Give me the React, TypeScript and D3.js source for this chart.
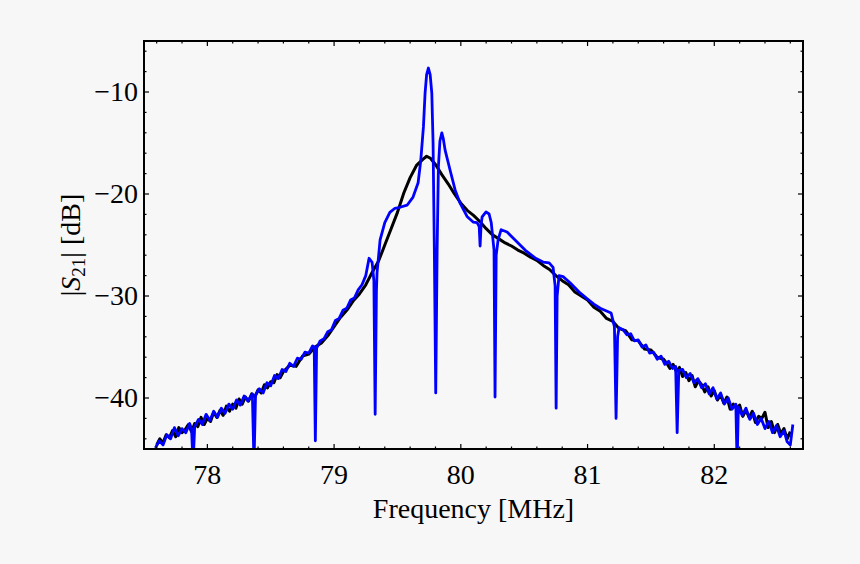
import React, { useEffect, useRef } from "react"
import * as d3 from "d3"

// black trace (reference / bare resonator)
const blackFreq = [
  77.6, 77.625, 77.65, 77.675, 77.7, 77.725, 77.75, 77.775, 77.8, 77.825, 77.85, 77.875, 77.9,
  77.925, 77.95, 77.975, 78.0, 78.025, 78.05, 78.075, 78.1, 78.125, 78.15, 78.175, 78.2, 78.225,
  78.25, 78.275, 78.3, 78.325, 78.35, 78.375, 78.4, 78.425, 78.45, 78.475, 78.5, 78.525, 78.55,
  78.575, 78.6, 78.65, 78.7, 78.75, 78.8, 78.85, 78.9, 78.95,
  79.0, 79.05, 79.1, 79.15, 79.2, 79.25, 79.3, 79.35, 79.4, 79.45, 79.5, 79.55, 79.6, 79.65,
  79.7, 79.73, 79.76, 79.8, 79.85, 79.9, 79.95, 80.0, 80.05, 80.1, 80.15, 80.2, 80.25, 80.3,
  80.35, 80.4, 80.45, 80.5, 80.55, 80.6, 80.65, 80.7, 80.75, 80.8, 80.85, 80.9, 80.95, 81.0,
  81.05, 81.1, 81.15, 81.2, 81.25, 81.3, 81.35, 81.4, 81.45, 81.5, 81.55,
  81.6, 81.625, 81.65, 81.675, 81.7, 81.725, 81.75, 81.775, 81.8, 81.825, 81.85, 81.875, 81.9,
  81.925, 81.95, 81.975, 82.0, 82.025, 82.05, 82.075, 82.1, 82.125, 82.15, 82.175, 82.2, 82.225,
  82.25, 82.275, 82.3, 82.325, 82.35, 82.375, 82.4, 82.425, 82.45, 82.475, 82.5, 82.525, 82.55,
  82.575, 82.6,
]
const blackDb = [
  -44.6, -44.0, -44.4, -43.6, -43.9, -43.2, -43.8, -42.9, -43.4, -43.1, -42.6, -43.3, -42.5,
  -42.8, -41.9, -42.6, -42.0, -42.3, -41.4, -41.9, -41.2, -41.7, -40.8, -41.3, -40.6, -41.0,
  -40.1, -40.6, -39.9, -40.3, -39.6, -39.9, -39.2, -39.5, -38.7, -39.0, -38.4, -38.5, -37.7,
  -38.0, -37.4, -36.8, -36.9, -35.9, -35.7, -35.0, -34.6, -33.9,
  -33.0, -32.1, -31.4, -30.5, -29.8, -28.9, -27.7, -26.6, -25.0, -23.4, -21.8, -19.9, -18.4, -17.2,
  -16.6, -16.3, -16.5, -17.1, -18.1, -19.0, -20.0, -20.9, -21.6, -22.1, -22.7, -23.4, -24.0, -24.4,
  -24.8, -25.1, -25.5, -25.8, -26.2, -26.5, -27.0, -27.4, -28.0, -28.5, -28.9, -29.6, -30.0, -30.4,
  -31.1, -31.5, -32.2, -32.5, -33.2, -33.4, -34.3, -34.4, -35.2, -35.3, -36.0,
  -36.2, -36.6, -37.1, -36.7, -37.4, -37.0, -37.9, -37.5, -38.3, -37.8, -38.9, -38.3, -38.7,
  -39.4, -38.9, -39.8, -39.3, -40.2, -39.7, -40.5, -39.9, -41.1, -40.6, -41.0, -40.7, -41.8,
  -41.2, -41.9, -41.3, -42.4, -41.8, -42.0, -41.4, -42.9, -42.3, -43.4, -42.6, -43.5, -43.0,
  -44.0, -43.3,
]

// blue trace (coupled system, with periodic notches)
const blueFreq = [
  77.59, 77.62, 77.65, 77.68, 77.71, 77.74, 77.77, 77.8, 77.83, 77.86, 77.875, 77.887, 77.9, 77.93,
  77.96, 77.99, 78.02, 78.05, 78.08, 78.11, 78.14, 78.17, 78.2, 78.23, 78.26, 78.29, 78.32, 78.355,
  78.368, 78.38, 78.41, 78.44, 78.47, 78.5, 78.53, 78.56, 78.59, 78.62, 78.65, 78.68, 78.71, 78.74,
  78.77, 78.8, 78.83, 78.843, 78.852, 78.862, 78.89, 78.92, 78.95, 78.98, 79.01, 79.04, 79.07, 79.1,
  79.13, 79.16, 79.19, 79.22, 79.25, 79.276, 79.3, 79.314, 79.324, 79.334, 79.339, 79.363, 79.4,
  79.44, 79.48, 79.52, 79.576, 79.623, 79.663, 79.684, 79.705, 79.718, 79.73, 79.744, 79.758,
  79.771, 79.781, 79.791, 79.802, 79.813, 79.823, 79.835, 79.85, 79.862, 79.876, 79.915, 79.955,
  79.994, 80.049, 80.097, 80.128, 80.145, 80.152, 80.16, 80.168, 80.199, 80.223, 80.24, 80.262,
  80.27, 80.279, 80.294, 80.318, 80.365, 80.428, 80.507, 80.586, 80.649, 80.697, 80.728, 80.744,
  80.752, 80.76, 80.775, 80.807, 80.862, 80.941, 81.0, 81.05, 81.1, 81.154, 81.186, 81.212, 81.225,
  81.237, 81.249, 81.28, 81.31, 81.34, 81.37, 81.4, 81.43, 81.46, 81.49, 81.52, 81.55, 81.58, 81.61,
  81.64, 81.67, 81.695, 81.707, 81.72, 81.75, 81.78, 81.81, 81.84, 81.87, 81.9, 81.93, 81.96, 81.99,
  82.02, 82.05, 82.08, 82.11, 82.14, 82.17, 82.18, 82.19, 82.22, 82.25, 82.28, 82.31, 82.34, 82.37,
  82.4, 82.43, 82.46, 82.49, 82.52, 82.55, 82.575, 82.6, 82.62,
]
const blueDb = [
  -44.9, -44.2, -44.6, -43.6, -44.0, -42.9, -43.7, -43.0, -43.4, -42.5, -43.0, -46.5, -42.8, -42.1,
  -42.6, -41.6, -42.2, -41.3, -41.9, -41.0, -41.5, -40.6, -41.1, -40.2, -40.7, -39.8, -40.3, -39.6,
  -46.5, -39.7, -39.1, -39.5, -38.5, -38.8, -37.8, -38.1, -37.2, -37.4, -36.6, -36.9, -36.1, -36.2,
  -35.5, -35.6, -34.9, -35.0, -44.2, -35.1, -34.4, -34.2, -33.5, -33.3, -32.4, -32.2, -31.4, -31.2,
  -30.4, -30.2, -29.4, -28.9, -28.0, -26.3, -26.7, -28.5, -41.6, -29.5, -27.7, -24.5, -22.8,
  -21.8, -21.4, -21.3, -21.1, -20.3, -18.9, -16.7, -13.4, -10.1, -8.3, -7.65, -8.3,
  -10.1, -15.0, -25.5, -39.5, -25.5, -17.35, -14.8, -14.0, -14.6, -15.7, -17.65, -19.6,
  -20.9, -22.2, -22.75, -22.8, -23.2, -25.1, -23.0, -22.25, -21.76, -21.96, -22.8, -25.5,
  -39.9, -26.0, -24.5, -23.5, -23.73, -24.5, -25.5, -26.27, -26.67, -26.76, -27.2, -29.0,
  -41.0, -30.0, -28.0, -28.1, -28.7, -29.7, -30.3, -30.8, -31.2, -31.5, -31.67, -33.0, -42.0,
  -34.0, -33.1, -33.3, -33.8, -33.7, -34.4, -34.3, -35.0, -34.8, -35.6, -35.5, -36.2, -35.9, -36.7,
  -36.4, -37.1, -36.9, -43.4, -37.3, -37.2, -38.0, -37.6, -38.5, -38.1, -39.0, -38.6, -39.6, -39.0,
  -40.1, -39.5, -40.6, -40.0, -41.1, -40.6, -46.5, -40.9, -41.7, -41.0, -42.1, -41.5, -42.6, -42.0,
  -43.0, -42.3, -43.4, -42.7, -43.8, -43.2, -44.3, -44.6, -42.6,
]

const xTicks = [78, 79, 80, 81, 82]
const yTicks = [-10, -20, -30, -40]

const W = 860
const H = 564
const margin = { top: 41, right: 57, bottom: 115, left: 144 }

const fmt = (v: number) => (v < 0 ? "\u2212" + Math.abs(v) : String(v))

const App = () => {
  const ref = useRef<SVGSVGElement | null>(null)

  useEffect(() => {
    const svg = d3.select(ref.current)
    svg.selectAll("*").remove()

    const x = d3.scaleLinear().domain([77.5, 82.7]).range([margin.left, W - margin.right])
    const y = d3.scaleLinear().domain([-45, -5]).range([H - margin.bottom, margin.top])

    svg.append("rect").attr("width", W).attr("height", H).attr("fill", "#f7f7f7")

    svg
      .append("clipPath")
      .attr("id", "plotclip")
      .append("rect")
      .attr("x", x(77.5))
      .attr("y", y(-5))
      .attr("width", x(82.7) - x(77.5))
      .attr("height", y(-45) - y(-5))

    const line = d3
      .line<[number, number]>()
      .x((d) => x(d[0]))
      .y((d) => y(d[1]))

    const black = blackFreq.map((f, i) => [f, blackDb[i]] as [number, number])
    const blue = blueFreq.map((f, i) => [f, blueDb[i]] as [number, number])

    const g = svg.append("g").attr("clip-path", "url(#plotclip)")
    g.append("path")
      .attr("d", line(black))
      .attr("fill", "none")
      .attr("stroke", "#000")
      .attr("stroke-width", 3)
      .attr("stroke-linejoin", "round")
    g.append("path")
      .attr("d", line(blue))
      .attr("fill", "none")
      .attr("stroke", "#0000ff")
      .attr("stroke-width", 2.8)
      .attr("stroke-linejoin", "round")

    // ticks on all four sides, pointing inward
    const x0 = x(77.5)
    const x1 = x(82.7)
    const y0 = y(-45)
    const y1 = y(-5)
    const ticks = svg.append("g").attr("stroke", "#000").attr("stroke-width", 1.2)
    d3.range(77.6, 82.7, 0.2).forEach((v) => {
      const major = Math.abs(v - Math.round(v)) < 1e-6
      const len = major ? 5 : 2.5
      ticks.append("line").attr("x1", x(v)).attr("x2", x(v)).attr("y1", y0).attr("y2", y0 - len)
      ticks.append("line").attr("x1", x(v)).attr("x2", x(v)).attr("y1", y1).attr("y2", y1 + len)
    })
    d3.range(-44, -5, 2).forEach((v) => {
      const major = v % 10 === 0
      const len = major ? 5 : 2.5
      ticks.append("line").attr("y1", y(v)).attr("y2", y(v)).attr("x1", x0).attr("x2", x0 + len)
      ticks.append("line").attr("y1", y(v)).attr("y2", y(v)).attr("x1", x1).attr("x2", x1 - len)
    })

    svg
      .append("rect")
      .attr("x", x0)
      .attr("y", y1)
      .attr("width", x1 - x0)
      .attr("height", y0 - y1)
      .attr("fill", "none")
      .attr("stroke", "#000")
      .attr("stroke-width", 2)

    const font = "'Liberation Serif', 'Times New Roman', serif"
    svg
      .append("g")
      .selectAll("text")
      .data(xTicks)
      .join("text")
      .attr("x", (d) => x(d))
      .attr("y", y0 + 35)
      .attr("text-anchor", "middle")
      .attr("font-family", font)
      .attr("font-size", 28)
      .text((d) => fmt(d))

    svg
      .append("g")
      .selectAll("text")
      .data(yTicks)
      .join("text")
      .attr("x", x0 - 6)
      .attr("y", (d) => y(d) + 9)
      .attr("text-anchor", "end")
      .attr("font-family", font)
      .attr("font-size", 28)
      .text((d) => fmt(d))

    svg
      .append("text")
      .attr("x", (x0 + x1) / 2)
      .attr("y", 518)
      .attr("text-anchor", "middle")
      .attr("font-family", font)
      .attr("font-size", 28)
      .text("Frequency [MHz]")

    const yl = svg
      .append("text")
      .attr("transform", `translate(80,${(y0 + y1) / 2}) rotate(-90)`)
      .attr("text-anchor", "middle")
      .attr("font-family", font)
      .attr("font-size", 28)
    yl.append("tspan").text("|")
    yl.append("tspan").attr("font-style", "italic").text("S")
    yl.append("tspan").attr("font-size", 19).attr("dy", 5).text("21")
    yl.append("tspan").attr("dy", -5).text("| [dB]")
  }, [])

  return (
    <svg
      ref={ref}
      width={W}
      height={H}
      style={{ position: "absolute", left: 0, top: 0, display: "block" }}
    />
  )
}

export default App
